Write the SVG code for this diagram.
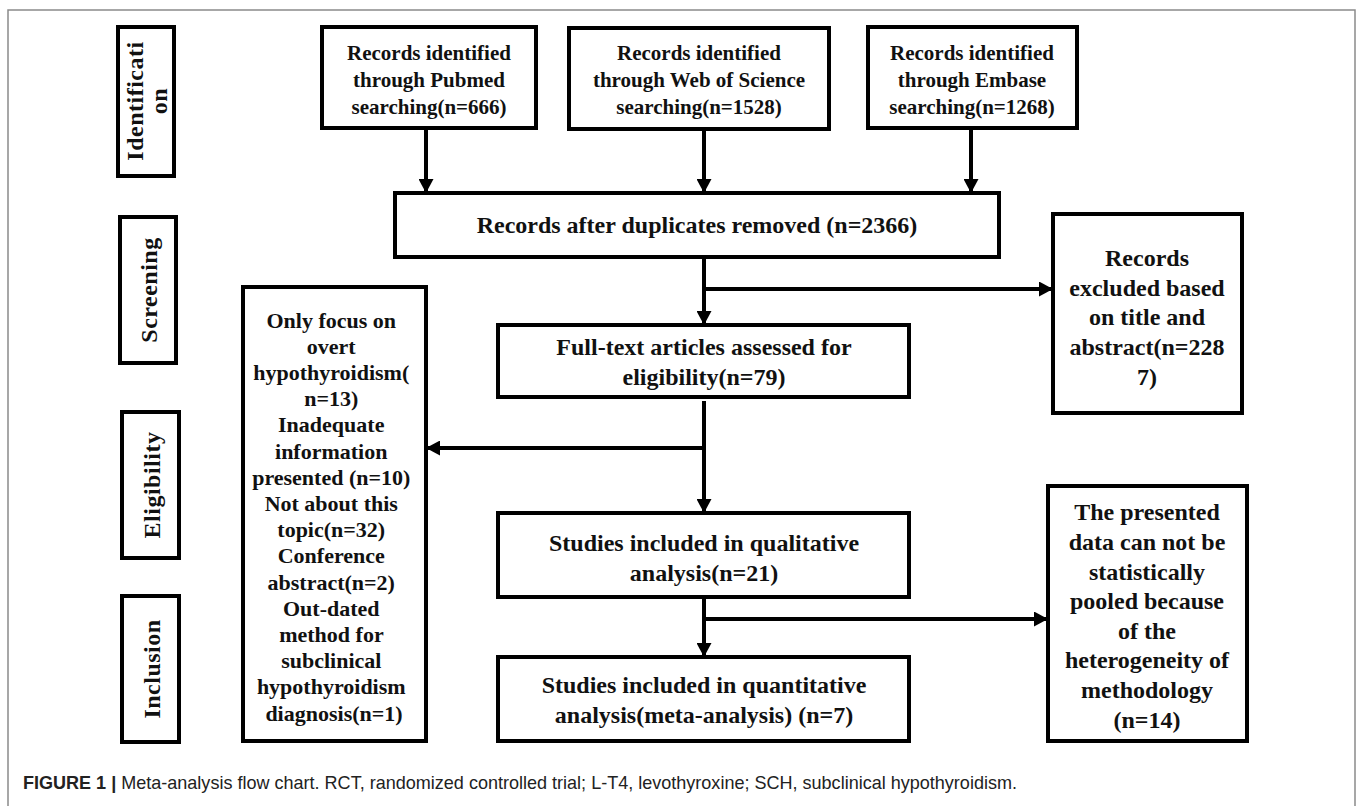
<svg xmlns="http://www.w3.org/2000/svg" width="1358" height="806" viewBox="0 0 1358 806">
<style>
.box{fill:#fff;stroke:#000;stroke-width:4}
.t{font-family:"Liberation Serif","Times New Roman",serif;font-weight:bold;fill:#111;text-anchor:middle}
.s21{font-size:21px}
.s22{font-size:22px}
.s24{font-size:24px}
.side{font-family:"Liberation Serif","Times New Roman",serif;font-weight:bold;font-size:24px;fill:#111;text-anchor:middle;letter-spacing:0.5px}
.ln{fill:none;stroke:#000;stroke-width:4}
.cap{font-family:"Liberation Sans",Arial,sans-serif;font-size:18.5px;fill:#222}
</style>
<defs>
<marker id="ah" viewBox="0 0 14 15" refX="14" refY="7.5" markerWidth="14" markerHeight="15" markerUnits="userSpaceOnUse" orient="auto">
<path d="M0,0 L14,7.5 L0,15 Z" fill="#000"/>
</marker>
</defs>
<rect x="0" y="0" width="1358" height="806" fill="#fff"/>
<rect x="8" y="10" width="1347" height="810" fill="none" stroke="#8a8a8a" stroke-width="1.5"/>

<g id="label-identification">
<rect class="box" x="118" y="27" width="56" height="149"/>
<text class="side" transform="translate(146,101) rotate(-90)"><tspan x="0" y="-3">Identificati</tspan><tspan x="0" y="21">on</tspan></text>
</g>
<g id="label-screening">
<rect class="box" x="120" y="217" width="56" height="146"/>
<text class="side" transform="translate(157,290) rotate(-90)" x="0" y="0">Screening</text>
</g>
<g id="label-eligibility">
<rect class="box" x="122" y="412" width="57" height="146"/>
<text class="side" transform="translate(160,485) rotate(-90)" x="0" y="0">Eligibility</text>
</g>
<g id="label-inclusion">
<rect class="box" x="122" y="596" width="57" height="146"/>
<text class="side" transform="translate(160,669) rotate(-90)" x="0" y="0">Inclusion</text>
</g>

<g id="pubmed">
<rect class="box" x="322" y="27" width="214" height="101"/>
<text class="t s21"><tspan x="429" y="60">Records identified</tspan><tspan x="429" y="87">through Pubmed</tspan><tspan x="429" y="114">searching(n=666)</tspan></text>
</g>
<g id="wos">
<rect class="box" x="569" y="28" width="260" height="101"/>
<text class="t s21"><tspan x="699" y="60">Records identified</tspan><tspan x="699" y="87">through Web of Science</tspan><tspan x="699" y="114">searching(n=1528)</tspan></text>
</g>
<g id="embase">
<rect class="box" x="868" y="27" width="209" height="101"/>
<text class="t s21"><tspan x="972" y="60">Records identified</tspan><tspan x="972" y="87">through Embase</tspan><tspan x="972" y="114">searching(n=1268)</tspan></text>
</g>
<g id="duplicates">
<rect class="box" x="395" y="193" width="604" height="64"/>
<text class="t s24" x="697" y="233">Records after duplicates removed (n=2366)</text>
</g>
<g id="excluded">
<rect class="box" x="1053" y="214" width="189" height="199"/>
<text class="t s24"><tspan x="1147" y="266">Records</tspan><tspan x="1147" y="296">excluded based</tspan><tspan x="1147" y="325">on title and</tspan><tspan x="1147" y="355">abstract(n=228</tspan><tspan x="1147" y="385">7)</tspan></text>
</g>
<g id="fulltext">
<rect class="box" x="498" y="325" width="411" height="72"/>
<text class="t s24"><tspan x="704" y="355">Full-text articles assessed for</tspan><tspan x="704" y="385">eligibility(n=79)</tspan></text>
</g>
<g id="reasons">
<rect class="box" x="243" y="287" width="183" height="454"/>
<text class="t s22">
<tspan x="334" y="327.5">Only focus on</tspan>
<tspan x="334" y="353.7">overt</tspan>
<tspan x="334" y="379.9">hypothyroidism(</tspan>
<tspan x="334" y="406.1">n=13)</tspan>
<tspan x="334" y="432.3">Inadequate</tspan>
<tspan x="334" y="458.5">information</tspan>
<tspan x="334" y="484.7">presented (n=10)</tspan>
<tspan x="334" y="510.9">Not about this</tspan>
<tspan x="334" y="537.1">topic(n=32)</tspan>
<tspan x="334" y="563.3">Conference</tspan>
<tspan x="334" y="589.5">abstract(n=2)</tspan>
<tspan x="334" y="615.7">Out-dated</tspan>
<tspan x="334" y="641.9">method for</tspan>
<tspan x="334" y="668.1">subclinical</tspan>
<tspan x="334" y="694.3">hypothyroidism</tspan>
<tspan x="334" y="720.5">diagnosis(n=1)</tspan>
</text>
</g>
<g id="qualitative">
<rect class="box" x="498" y="513" width="411" height="84"/>
<text class="t s24"><tspan x="704" y="551">Studies included in qualitative</tspan><tspan x="704" y="581">analysis(n=21)</tspan></text>
</g>
<g id="pooled">
<rect class="box" x="1048" y="486" width="199" height="255"/>
<text class="t s24"><tspan x="1147" y="520">The presented</tspan><tspan x="1147" y="550">data can not be</tspan><tspan x="1147" y="580">statistically</tspan><tspan x="1147" y="609">pooled because</tspan><tspan x="1147" y="639">of the</tspan><tspan x="1147" y="668">heterogeneity of</tspan><tspan x="1147" y="698">methodology</tspan><tspan x="1147" y="728">(n=14)</tspan></text>
</g>
<g id="quantitative">
<rect class="box" x="498" y="657" width="411" height="84"/>
<text class="t s24"><tspan x="704" y="693">Studies included in quantitative</tspan><tspan x="704" y="723">analysis(meta-analysis) (n=7)</tspan></text>
</g>

<g id="connectors">
<path class="ln" d="M426,130 V193" marker-end="url(#ah)"/>
<path class="ln" d="M704,131 V193" marker-end="url(#ah)"/>
<path class="ln" d="M971,130 V193" marker-end="url(#ah)"/>
<path class="ln" d="M704,259 V325" marker-end="url(#ah)"/>
<path class="ln" d="M702,289 H1053" marker-end="url(#ah)"/>
<path class="ln" d="M704,401 V513" marker-end="url(#ah)"/>
<path class="ln" d="M706,448 H426" marker-end="url(#ah)"/>
<path class="ln" d="M704,599 V657" marker-end="url(#ah)"/>
<path class="ln" d="M702,619 H1048" marker-end="url(#ah)"/>
</g>

<text class="cap" x="23" y="789" textLength="994" lengthAdjust="spacingAndGlyphs"><tspan font-weight="bold">FIGURE 1 | </tspan>Meta-analysis flow chart. RCT, randomized controlled trial; L-T4, levothyroxine; SCH, subclinical hypothyroidism.</text>
</svg>
